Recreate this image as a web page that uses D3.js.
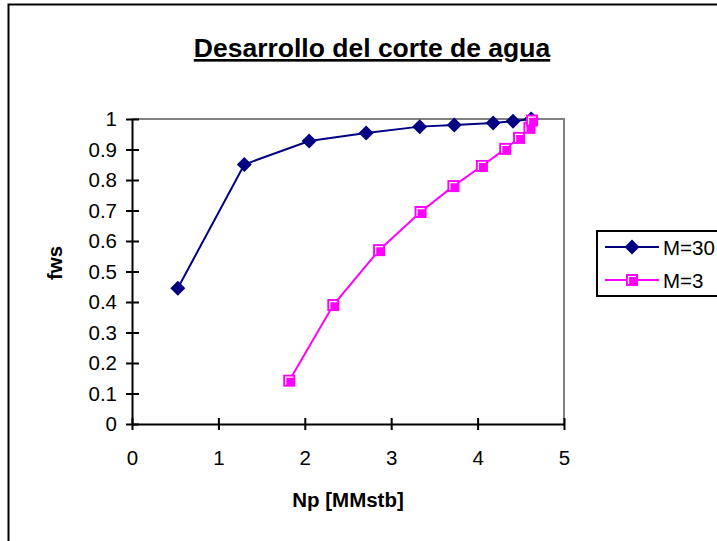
<!DOCTYPE html>
<html>
<head>
<meta charset="utf-8">
<script src="https://cdn.jsdelivr.net/npm/d3@7"></script>
<style>
  html, body { margin: 0; padding: 0; background: #fff; }
  svg { display: block; font-family: "Liberation Sans", Arial, sans-serif; }
</style>
</head>
<body>
<svg id="chart" width="717" height="541"></svg>
<script>
// Cumulative oil production (MMstb) and water cut for two mobility ratios
const npM30  = [0.53, 1.30, 2.05, 2.71, 3.33, 3.73, 4.18, 4.41, 4.62];
const fwsM30 = [0.445, 0.851, 0.928, 0.954, 0.975, 0.980, 0.987, 0.993, 1.0];
const npM3   = [1.82, 2.33, 2.86, 3.34, 3.72, 4.05, 4.32, 4.48, 4.60, 4.63];
const fwsM3  = [0.142, 0.390, 0.570, 0.695, 0.780, 0.846, 0.902, 0.938, 0.971, 0.995];
const xTicks = [0, 1, 2, 3, 4, 5];
const yTicks = [0, 0.1, 0.2, 0.3, 0.4, 0.5, 0.6, 0.7, 0.8, 0.9, 1];
const seriesNames = ["M=30", "M=3"];

const svg = d3.select("#chart");
const plot = { left: 132, right: 564, top: 119, bottom: 424 };
const labelSize = 20.5;

const x = d3.scaleLinear().domain([0, 5]).range([plot.left, plot.right]);
const y = d3.scaleLinear().domain([0, 1]).range([plot.bottom, plot.top]);

// Outer chart frame
svg.append("rect")
  .attr("x", 8.5).attr("y", 4.5).attr("width", 720).attr("height", 545)
  .attr("fill", "none").attr("stroke", "#000").attr("stroke-width", 2);

// Title
svg.append("text")
  .attr("x", 372).attr("y", 57)
  .attr("text-anchor", "middle")
  .attr("font-size", 26.5).attr("font-weight", "bold")
  .attr("text-decoration", "underline")
  .text("Desarrollo del corte de agua");

// Plot area border (top and right in grey)
svg.append("path")
  .attr("d", `M${plot.left},${plot.top}H${plot.right}V${plot.bottom}`)
  .attr("fill", "none").attr("stroke", "#808080").attr("stroke-width", 2);

// Axes with ticks crossing the axis line
const xAxis = svg.append("g").attr("transform", `translate(0,${plot.bottom})`)
  .call(d3.axisBottom(x).tickValues(xTicks).tickSize(6).tickSizeOuter(0).tickPadding(20)
        .tickFormat(d3.format("d")));
const yAxis = svg.append("g").attr("transform", `translate(${plot.left},0)`)
  .call(d3.axisLeft(y).tickValues(yTicks).tickSize(6).tickSizeOuter(0).tickPadding(9)
        .tickFormat(d => d === 0 || d === 1 ? d3.format("d")(d) : d3.format(".1f")(d)));

[xAxis, yAxis].forEach(g => {
  g.select(".domain").attr("stroke", "#000").attr("stroke-width", 2);
  g.selectAll(".tick line").attr("stroke", "#000").attr("stroke-width", 2);
  g.selectAll(".tick text").attr("font-size", labelSize).attr("fill", "#000")
    .attr("font-family", "'Liberation Sans', Arial, sans-serif");
});
xAxis.selectAll(".tick line").attr("y1", -6).attr("y2", 6);
yAxis.selectAll(".tick line").attr("x1", -6).attr("x2", 7);

// Axis titles
svg.append("text")
  .attr("x", 348).attr("y", 507)
  .attr("text-anchor", "middle").attr("font-size", 20.5).attr("font-weight", "bold")
  .text("Np [MMstb]");
svg.append("text")
  .attr("transform", "translate(62,263) rotate(-90)")
  .attr("text-anchor", "middle").attr("font-size", 20.5).attr("font-weight", "bold")
  .text("fws");

const line = d3.line().x(d => x(d[0])).y(d => y(d[1]));
const m30 = npM30.map((v, i) => [v, fwsM30[i]]);
const m3  = npM3.map((v, i) => [v, fwsM3[i]]);

const navy = "#000080", magenta = "#ff00ff";

function diamond(g, cx, cy) {
  g.append("path")
    .attr("d", `M${cx},${cy - 7.5}L${cx + 7.5},${cy}L${cx},${cy + 7.5}L${cx - 7.5},${cy}Z`)
    .attr("fill", navy);
}
function square(g, cx, cy) {
  g.append("rect")
    .attr("x", cx - 6).attr("y", cy - 6).attr("width", 12).attr("height", 12)
    .attr("fill", magenta);
  g.append("path")
    .attr("d", `M${cx - 3.5},${cy + 4}V${cy - 3.5}H${cx + 4}`)
    .attr("fill", "none").attr("stroke", "#fff").attr("stroke-width", 1.2);
}

// M=30 series
svg.append("path").datum(m30).attr("d", line)
  .attr("fill", "none").attr("stroke", navy).attr("stroke-width", 2);
const gM30 = svg.append("g");
m30.forEach(d => diamond(gM30, x(d[0]), y(d[1])));

// M=3 series
svg.append("path").datum(m3).attr("d", line)
  .attr("fill", "none").attr("stroke", magenta).attr("stroke-width", 2);
const gM3 = svg.append("g");
m3.forEach(d => square(gM3, x(d[0]), y(d[1])));

// Legend
const legend = svg.append("g");
legend.append("rect")
  .attr("x", 597).attr("y", 231).attr("width", 140).attr("height", 65)
  .attr("fill", "#fff").attr("stroke", "#000").attr("stroke-width", 2);
const rows = [
  { name: seriesNames[0], color: navy, mark: diamond, yy: 247 },
  { name: seriesNames[1], color: magenta, mark: square, yy: 280 }
];
rows.forEach(r => {
  legend.append("line")
    .attr("x1", 605).attr("x2", 659).attr("y1", r.yy).attr("y2", r.yy)
    .attr("stroke", r.color).attr("stroke-width", 2);
  r.mark(legend, 632, r.yy);
  legend.append("text")
    .attr("x", 663).attr("y", r.yy + 7.5)
    .attr("font-size", labelSize).attr("fill", "#000")
    .text(r.name);
});
</script>
</body>
</html>
